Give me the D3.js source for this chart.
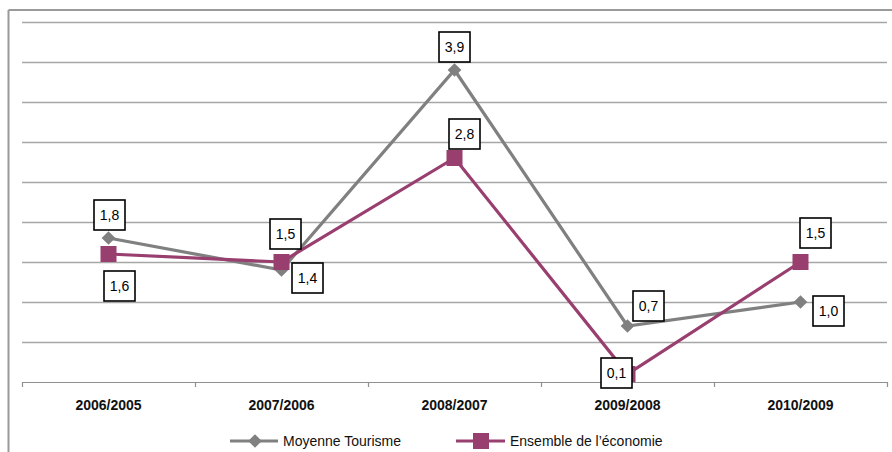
<!DOCTYPE html>
<html>
<head>
<meta charset="utf-8">
<script src="https://cdn.jsdelivr.net/npm/d3@7"></script>
<style>
  html, body { margin: 0; padding: 0; background: #fff; }
  svg { display: block; font-family: "Liberation Sans", Arial, sans-serif; }
</style>
</head>
<body>
<svg id="chart" width="892" height="452"></svg>
<script>
// Annual growth, period over previous period
const periods = ["2006/2005", "2007/2006", "2008/2007", "2009/2008", "2010/2009"];
const tourisme = [1.8, 1.4, 3.9, 0.7, 1.0];
const economie = [1.6, 1.5, 2.8, 0.1, 1.5];
const gridValues = [0.5, 1, 1.5, 2, 2.5, 3, 3.5, 4, 4.5];
const seriesNames = ["Moyenne Tourisme", "Ensemble de l\u2019économie"];

// Label placement offsets (dx, dy) relative to each point
const tourismeLabelOffsets = [[1, -23], [26, 8], [0, -23], [21, -20], [28, 9]];
const economieLabelOffsets = [[11, 32], [4, -28], [10, -24], [-11, -1], [15, -29]];

const grey = "#808080";
const plum = "#993f6f";

const svg = d3.select("#chart");
const plotLeft = 22, plotRight = 887, plotTop = 22, plotBottom = 382;

const x = d3.scaleBand().domain(periods).range([plotLeft, plotRight]);
const y = d3.scaleLinear().domain([0, 4.5]).range([plotBottom, plotTop]);

// Outer frame
svg.append("line").attr("x1", 8.5).attr("x2", 892).attr("y1", 10).attr("y2", 10)
  .attr("stroke", "#9a9a9a").attr("stroke-width", 2);
svg.append("line").attr("x1", 8.5).attr("x2", 8.5).attr("y1", 10).attr("y2", 452)
  .attr("stroke", "#9a9a9a").attr("stroke-width", 2);

// Horizontal gridlines
svg.append("g").selectAll("line").data(gridValues).join("line")
  .attr("x1", plotLeft).attr("x2", plotRight)
  .attr("y1", d => Math.round(y(d)) + 0.5).attr("y2", d => Math.round(y(d)) + 0.5)
  .attr("stroke", "#a6a6a6").attr("stroke-width", 1.5);

// Category axis: baseline with ticks between categories
const boundaries = periods.map(p => x(p)).concat([plotRight]);
svg.append("line").attr("x1", plotLeft).attr("x2", plotRight)
  .attr("y1", plotBottom + 0.5).attr("y2", plotBottom + 0.5)
  .attr("stroke", "#909090").attr("stroke-width", 1.2);
svg.append("g").selectAll("line").data(boundaries).join("line")
  .attr("x1", d => Math.round(d) + 0.5).attr("x2", d => Math.round(d) + 0.5)
  .attr("y1", plotBottom).attr("y2", plotBottom + 5)
  .attr("stroke", "#909090").attr("stroke-width", 1.2);

svg.append("g").selectAll("text").data(periods).join("text")
  .attr("x", d => x(d) + x.bandwidth() / 2)
  .attr("y", 410)
  .attr("text-anchor", "middle")
  .attr("font-size", 14).attr("font-weight", "bold").attr("fill", "#111")
  .text(d => d);

const cx = (d, i) => x(periods[i]) + x.bandwidth() / 2;
const line = d3.line().x(cx).y(d => y(d));

// Series lines
svg.append("path").datum(tourisme).attr("d", line)
  .attr("fill", "none").attr("stroke", grey).attr("stroke-width", 3.2);
svg.append("path").datum(economie).attr("d", line)
  .attr("fill", "none").attr("stroke", plum).attr("stroke-width", 3.2);

// Markers
const diamond = d3.symbol().type(d3.symbolDiamond2).size(120);
svg.append("g").selectAll("path").data(tourisme).join("path")
  .attr("d", diamond)
  .attr("transform", (d, i) => `translate(${cx(d, i)},${y(d)})`)
  .attr("fill", grey);
svg.append("g").selectAll("rect").data(economie).join("rect")
  .attr("x", (d, i) => cx(d, i) - 8).attr("y", d => y(d) - 8)
  .attr("width", 16).attr("height", 16).attr("fill", plum);

// Value labels in boxes
function drawLabels(values, offsets) {
  const g = svg.append("g").selectAll("g").data(values).join("g")
    .attr("transform", (d, i) => `translate(${cx(d, i) + offsets[i][0]},${y(d) + offsets[i][1]})`);
  g.append("rect").attr("x", -15.5).attr("y", -15).attr("width", 31).attr("height", 30)
    .attr("fill", "#fff").attr("stroke", "#000").attr("stroke-width", 1.6);
  g.append("text").attr("text-anchor", "middle").attr("dy", "0.36em")
    .attr("font-size", 14).attr("fill", "#000")
    .text(d => d3.format(".1f")(d).replace(".", ","));
}
drawLabels(tourisme, tourismeLabelOffsets);
drawLabels(economie, economieLabelOffsets);

// Legend
const legendY = 441;
const lg1 = svg.append("g").attr("transform", `translate(230,${legendY})`);
lg1.append("line").attr("x1", 0).attr("x2", 48).attr("stroke", grey).attr("stroke-width", 3.2);
lg1.append("path").attr("d", diamond).attr("transform", "translate(25,0)").attr("fill", grey);
lg1.append("text").attr("x", 53).attr("dy", "0.36em").attr("font-size", 14).attr("fill", "#111")
  .text(seriesNames[0]);

const lg2 = svg.append("g").attr("transform", `translate(456,${legendY})`);
lg2.append("line").attr("x1", 0).attr("x2", 49).attr("stroke", plum).attr("stroke-width", 3.2);
lg2.append("rect").attr("x", 17).attr("y", -8).attr("width", 16).attr("height", 16).attr("fill", plum);
lg2.append("text").attr("x", 54).attr("dy", "0.36em").attr("font-size", 14).attr("fill", "#111")
  .text(seriesNames[1]);
</script>
</body>
</html>
